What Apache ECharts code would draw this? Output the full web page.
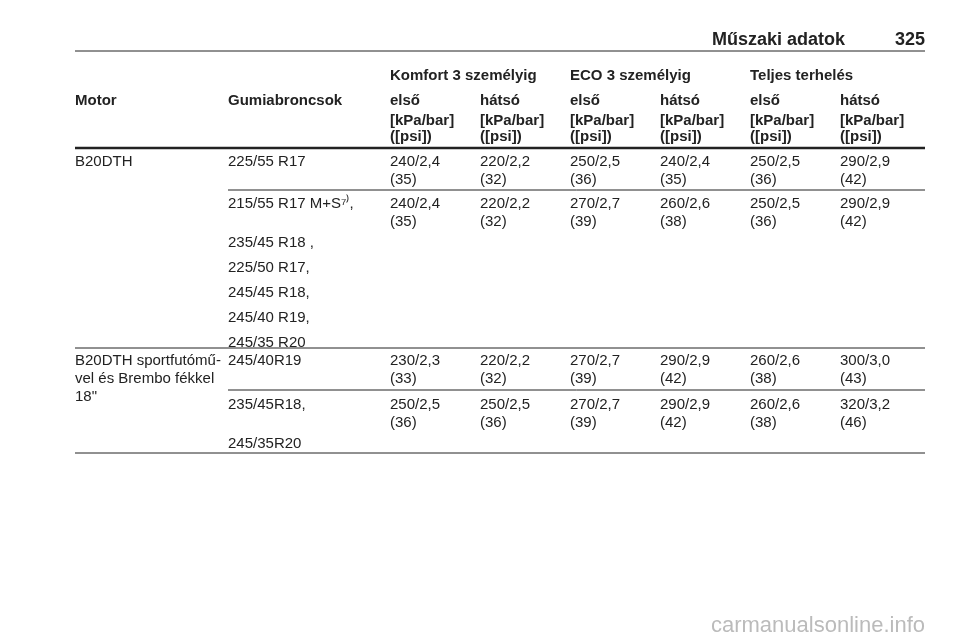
<!DOCTYPE html>
<html><head><meta charset="utf-8">
<script src="https://cdn.jsdelivr.net/npm/echarts@6/dist/echarts.min.js"></script>
<style>html,body{margin:0;background:#fff}#c{width:960px;height:642px}</style>
</head><body><div id="c"></div>
<script>
const pageTitle = "Műszaki adatok";
const pageNum = "325";
const groupHeaders = ["Komfort 3 személyig", "ECO 3 személyig", "Teljes terhelés"];
const colHeaders = ["Motor", "Gumiabroncsok", "első", "hátsó", "első", "hátsó", "első", "hátsó"];
const unitHeader = ["[kPa/bar]", "([psi])"];
const rows = [
  {motor: [], tyres: ["225/55 R17"], vals: ["240/2,4|(35)","220/2,2|(32)","250/2,5|(36)","240/2,4|(35)","250/2,5|(36)","290/2,9|(42)"]},
  {motor: [], tyres: ["215/55 R17 M+S⁷⁾,","235/45 R18 ,","225/50 R17,","245/45 R18,","245/40 R19,","245/35 R20"], vals: ["240/2,4|(35)","220/2,2|(32)","270/2,7|(39)","260/2,6|(38)","250/2,5|(36)","290/2,9|(42)"]},
  {motor: ["B20DTH sportfutómű-","vel és Brembo fékkel","18\""], tyres: ["245/40R19"], vals: ["230/2,3|(33)","220/2,2|(32)","270/2,7|(39)","290/2,9|(42)","260/2,6|(38)","300/3,0|(43)"]},
  {motor: [], tyres: ["235/45R18,","245/35R20"], vals: ["250/2,5|(36)","250/2,5|(36)","270/2,7|(39)","290/2,9|(42)","260/2,6|(38)","320/3,2|(46)"]}
];
const firstMotor = "B20DTH";
const watermark = "carmanualsonline.info";

const colX = [75, 228, 390, 480, 570, 660, 750, 840];
const F = "'Liberation Sans', Arial, sans-serif";
const g = [];
function t(x, y, s, bold, opts) {
  g.push(Object.assign({type:'text', x, y, style:{text:s, font:(bold?'bold ':'')+'15px '+F, fill:'#222', textVerticalAlign:'middle'}}, opts||{}));
}
function ln(x1, y, x2, w) {
  g.push({type:'line', shape:{x1, y1:y, x2, y2:y}, style:{stroke:'#222', lineWidth:w||1}});
}
t(845, 40, pageTitle, true, {style:{text:pageTitle, font:'bold 18px '+F, fill:'#222', textAlign:'right', textVerticalAlign:'middle'}});
t(925, 40, pageNum, true, {style:{text:pageNum, font:'bold 18px '+F, fill:'#222', textAlign:'right', textVerticalAlign:'middle'}});
ln(75, 51, 925, 1);
groupHeaders.forEach((h,i)=>t(colX[2+2*i], 76, h, true));
colHeaders.forEach((h,i)=>t(colX[i], 101, h, true));
for (let i=2;i<8;i++){ t(colX[i],121,unitHeader[0],true); t(colX[i],137,unitHeader[1],true); }
ln(75, 148, 925, 2.5);
const rowY = [162, 204, 361, 405];
const lineAfter = [[228,190],[75,348],[228,390],[75,453]];
t(75, 162, firstMotor, false);
rows.forEach((r,ri)=>{
  const y = rowY[ri];
  r.motor.forEach((m,k)=>t(75, y+18*k, m, false));
  r.tyres.forEach((s,k)=>t(228, k===0?y:y+18+25*(k-1)+21, s, false));
  r.vals.forEach((v,k)=>{const p=v.split('|'); t(colX[2+k], y, p[0]); t(colX[2+k], y+18, p[1]);});
  ln(lineAfter[ri][0], lineAfter[ri][1], 925, 1);
});
g.push({type:'text', right:35, y:626, style:{text:watermark, font:'22px '+F, fill:'#bbb', textVerticalAlign:'middle'}});
const chart = echarts.init(document.getElementById('c'));
chart.setOption({graphic: g});
</script></body></html>
